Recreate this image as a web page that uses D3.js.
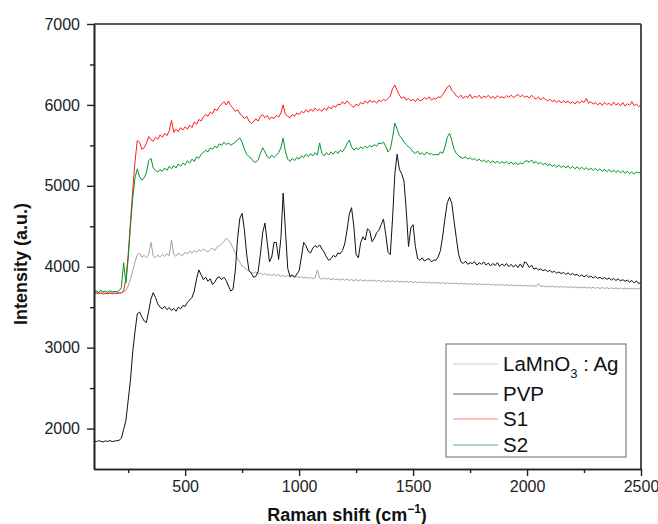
<!DOCTYPE html>
<html>
<head>
<meta charset="utf-8">
<script src="https://cdn.jsdelivr.net/npm/d3@7"></script>
<style>
  body { margin: 0; background: #fff; }
  text { font-family: "Liberation Sans", Arial, sans-serif; }
</style>
</head>
<body>
<div id="chart"></div>
<script>

// Raman shift grid, cm-1 (one reading every 10 cm-1)
const shift = d3.range(100, 2501, 10)

// intensities, one row per 100 cm-1
const lamno3 = [
  3680,3686,3675,3690,3681,3672,3687,3680,3676,3688,
  3680,3684,3678,3692,3705,3760,3850,3950,4060,4150,
  4165,4120,4142,4110,4152,4300,4130,4112,4143,4120,
  4152,4128,4160,4138,4330,4150,4128,4170,4148,4140,
  4180,4158,4192,4168,4200,4178,4212,4188,4220,4198,
  4182,4212,4230,4200,4242,4258,4282,4310,4352,4330,
  4290,4230,4170,4100,4050,4010,3990,3962,3950,3930,
  3920,3936,3910,3922,3900,3916,3895,3906,3890,3912,
  3885,3902,3880,3896,3875,3892,3870,3886,3870,3882,
  3865,3876,3860,3872,3855,3868,3852,3865,3960,3858,
  3845,3862,3848,3856,3840,3853,3838,3851,3835,3848,
  3832,3846,3830,3843,3828,3841,3826,3839,3825,3836,
  3822,3835,3821,3834,3818,3832,3817,3830,3815,3828,
  3813,3827,3811,3825,3809,3822,3808,3820,3806,3818,
  3804,3816,3802,3814,3800,3812,3799,3810,3797,3808,
  3795,3806,3793,3804,3791,3802,3790,3800,3788,3798,
  3786,3796,3784,3794,3782,3792,3781,3790,3779,3789,
  3777,3787,3775,3785,3773,3783,3772,3781,3770,3780,
  3768,3778,3766,3776,3764,3774,3763,3772,3761,3771,
  3759,3769,3757,3767,3755,3792,3754,3764,3752,3762,
  3750,3760,3748,3758,3746,3756,3745,3755,3743,3753,
  3741,3751,3740,3750,3738,3748,3737,3746,3735,3745,
  3733,3744,3732,3742,3731,3741,3729,3740,3728,3739,
  3727,3738,3726,3736,3725,3735,3724,3734,3723,3733,
  3732
]

const pvp = [
  1845,1838,1850,1842,1835,1848,1840,1852,1838,1845,
  1850,1855,1880,1990,2100,2350,2600,2950,3200,3420,
  3440,3380,3330,3310,3450,3600,3680,3620,3540,3500,
  3480,3510,3470,3495,3460,3485,3450,3500,3480,3520,
  3510,3560,3590,3620,3700,3850,3960,3900,3840,3870,
  3820,3850,3780,3810,3860,3875,3840,3870,3830,3760,
  3700,3720,3950,4350,4600,4660,4450,4150,3950,3920,
  3870,3880,3940,4150,4420,4540,4300,4060,4120,4300,
  4300,4090,4350,4910,4450,3980,3880,3900,3870,3910,
  3950,4120,4300,4260,4190,4170,4230,4260,4240,4270,
  4220,4180,4120,4080,4100,4140,4120,4170,4160,4200,
  4280,4450,4650,4730,4500,4150,4110,4300,4370,4330,
  4470,4440,4310,4350,4420,4450,4520,4590,4400,4180,
  4150,4600,5150,5390,5200,5150,5060,4700,4250,4480,
  4520,4250,4100,4080,4110,4070,4090,4100,4060,4080,
  4080,4120,4200,4380,4600,4790,4860,4780,4560,4350,
  4150,4060,4040,4070,4030,4050,4040,4060,4020,4050,
  4030,4060,4020,4045,4010,4040,4015,4050,4005,4035,
  4010,4040,4000,4030,3995,4025,3990,4035,3990,4060,
  4040,3990,4020,3970,3985,3960,3975,3950,3965,3940,
  3955,3930,3945,3920,3935,3915,3930,3905,3925,3900,
  3915,3895,3905,3880,3900,3875,3895,3870,3885,3860,
  3880,3855,3870,3850,3865,3845,3860,3835,3855,3830,
  3850,3825,3840,3820,3835,3810,3830,3800,3825,3790,
  3810
]

const s1 = [
  3665,3672,3668,3675,3662,3670,3666,3674,3664,3671,
  3668,3672,3676,3700,3850,4150,4550,4950,5300,5560,
  5540,5450,5470,5530,5610,5570,5550,5600,5575,5630,
  5600,5650,5620,5680,5810,5660,5700,5670,5720,5690,
  5730,5700,5750,5720,5790,5760,5820,5800,5850,5880,
  5860,5910,5890,5950,5930,5980,6010,6040,6000,6050,
  5990,5960,5920,5940,5890,5870,5830,5860,5800,5770,
  5790,5830,5800,5860,5880,5840,5870,5820,5850,5830,
  5870,5850,5900,6000,5880,5860,5840,5880,5860,5900,
  5880,5920,5900,5940,5910,5950,5920,5960,5930,5945,
  5920,5960,5935,5980,5950,5990,5970,6010,6000,6040,
  6010,6050,6020,5990,5970,6010,5990,6030,6010,6050,
  6020,6060,6030,6050,6020,6060,6040,6070,6050,6080,
  6110,6200,6246,6180,6120,6080,6100,6060,6080,6050,
  6070,6040,6080,6050,6060,6090,6070,6100,6060,6080,
  6070,6100,6090,6130,6170,6220,6240,6180,6150,6110,
  6090,6120,6080,6110,6090,6130,6080,6110,6090,6120,
  6080,6110,6090,6120,6085,6105,6080,6115,6090,6100,
  6085,6115,6095,6120,6090,6110,6130,6100,6120,6095,
  6110,6085,6120,6090,6070,6100,6060,6090,6070,6050,
  6070,6040,6060,6030,6055,6025,6050,6030,6045,6020,
  6040,6010,6045,6020,6050,6030,6080,6020,6040,6010,
  6030,6000,6025,5995,6030,6005,6020,5990,6035,6000,
  6020,5990,6030,5985,6015,5995,6040,5990,6010,5980,
  6000
]

const s2 = [
  3690,3700,3682,3710,3688,3698,3684,3705,3690,3696,
  3692,3705,3740,4050,3800,4100,4500,4850,5100,5210,
  5110,5070,5100,5160,5310,5340,5220,5190,5170,5200,
  5180,5220,5190,5240,5210,5250,5220,5270,5240,5280,
  5260,5310,5280,5330,5300,5360,5340,5390,5410,5440,
  5420,5470,5450,5490,5470,5520,5500,5540,5510,5530,
  5500,5520,5540,5570,5590,5540,5450,5390,5360,5340,
  5300,5290,5320,5400,5470,5420,5360,5340,5380,5350,
  5380,5410,5470,5590,5420,5330,5300,5340,5310,5350,
  5330,5370,5350,5390,5360,5400,5370,5410,5380,5530,
  5400,5370,5410,5380,5420,5390,5430,5400,5440,5420,
  5460,5520,5566,5480,5440,5470,5450,5480,5460,5490,
  5470,5500,5480,5510,5490,5530,5520,5540,5490,5420,
  5450,5600,5776,5700,5620,5590,5540,5510,5480,5460,
  5420,5400,5430,5390,5410,5380,5420,5390,5400,5380,
  5390,5380,5420,5400,5480,5600,5650,5560,5450,5400,
  5370,5350,5340,5360,5330,5350,5320,5340,5310,5330,
  5300,5320,5290,5315,5285,5310,5280,5305,5275,5300,
  5280,5300,5270,5295,5265,5290,5260,5285,5270,5300,
  5310,5290,5320,5280,5300,5270,5290,5260,5280,5250,
  5270,5240,5260,5230,5255,5225,5250,5220,5245,5215,
  5240,5210,5235,5205,5230,5200,5225,5195,5220,5190,
  5215,5185,5210,5180,5205,5175,5200,5170,5195,5165,
  5190,5160,5185,5155,5180,5150,5175,5145,5170,5160,
  5170
]

const seriesNames = ["LaMnO3 : Ag", "PVP", "S1", "S2"]
const seriesColors = ["#a3a3a3", "#111111", "#ff1a1a", "#00952a"]
const legendColors = ["#c9c9c9", "#666666", "#ff8080", "#66b27a"]
const xTicks = [500, 1000, 1500, 2000, 2500]
const xMinor = [250, 750, 1250, 1750, 2250]
const yTicks = [2000, 3000, 4000, 5000, 6000, 7000]
const yMinor = [2500, 3500, 4500, 5500, 6500]

// Layout
let outerWidth = 658
let outerHeight = 524
let margin = {top: 24, bottom: 55, left: 94, right: 17}
let width = outerWidth - margin.left - margin.right
let height = outerHeight - margin.top - margin.bottom

const svg = d3.select("#chart")
    .append("svg")
    .attr("width", outerWidth)
    .attr("height", outerHeight)

const g = svg.append("g")
    .attr("transform", `translate(${margin.left}, ${margin.top})`)

const x = d3.scaleLinear()
    .domain([100, 2500])
    .range([0, width])

const y = d3.scaleLinear()
    .domain([1500, 7000])
    .range([height, 0])

// Lines
const line = d3.line()
    .x(d => x(d[0]))
    .y(d => y(d[1]))

const allSeries = [lamno3, pvp, s1, s2]

allSeries.forEach((vals, i) => {
    g.append("path")
        .datum(shift.map((s, j) => [s, vals[j]]))
        .attr("fill", "none")
        .attr("stroke", seriesColors[i])
        .attr("stroke-width", 1)
        .attr("stroke-linejoin", "round")
        .attr("d", line)
})

// Frame (top and right)
g.append("line")
    .attr("x1", 0).attr("x2", width)
    .attr("y1", 0).attr("y2", 0)
    .attr("stroke", "#222").attr("stroke-width", 1.6)
g.append("line")
    .attr("x1", width).attr("x2", width)
    .attr("y1", 0).attr("y2", height)
    .attr("stroke", "#222").attr("stroke-width", 1.6)

// Axes
const fmt = d3.format("d")

g.append("g")
    .attr("transform", `translate(0, ${height})`)
    .call(d3.axisBottom(x).tickValues(xTicks).tickFormat(fmt).tickSize(7).tickPadding(5).tickSizeOuter(0))
g.append("g")
    .attr("transform", `translate(0, ${height})`)
    .call(d3.axisBottom(x).tickValues(xMinor).tickSize(4).tickFormat("").tickSizeOuter(0))

g.append("g")
    .call(d3.axisLeft(y).tickValues(yTicks).tickFormat(fmt).tickSize(7).tickPadding(7).tickSizeOuter(0))
g.append("g")
    .call(d3.axisLeft(y).tickValues(yMinor).tickSize(4).tickFormat("").tickSizeOuter(0))

g.selectAll(".domain").attr("stroke", "#222").attr("stroke-width", 1.6)
g.selectAll(".tick line").attr("stroke", "#222").attr("stroke-width", 1.4)
g.selectAll(".tick text")
    .attr("fill", "#222")
    .style("font-size", "16px")
    .style("font-family", "'Liberation Sans', Arial, sans-serif")

// Axis titles
const xTitle = svg.append("text")
    .attr("x", 347)
    .attr("y", 521)
    .attr("text-anchor", "middle")
    .style("font-size", "18px")
    .style("font-weight", "bold")
    .attr("fill", "#111")
xTitle.append("tspan").text("Raman shift (cm")
xTitle.append("tspan").attr("dy", -8).style("font-size", "12px").text("\u22121")
xTitle.append("tspan").attr("dy", 8).text(")")

svg.append("text")
    .attr("transform", "translate(27, 264) rotate(-90)")
    .attr("text-anchor", "middle")
    .style("font-size", "18px")
    .style("font-weight", "bold")
    .attr("fill", "#111")
    .text("Intensity (a.u.)")

// Legend
const legend = svg.append("g")
    .attr("transform", "translate(446, 344)")

legend.append("rect")
    .attr("width", 180)
    .attr("height", 113)
    .attr("fill", "#fff")
    .attr("stroke", "#666")
    .attr("stroke-width", 1)

const rowY = [20, 50, 75, 101]

seriesNames.forEach((name, i) => {
    legend.append("line")
        .attr("x1", 7).attr("x2", 52)
        .attr("y1", rowY[i]).attr("y2", rowY[i])
        .attr("stroke", legendColors[i])
        .attr("stroke-width", 1.2)

    const t = legend.append("text")
        .attr("x", 57)
        .attr("y", rowY[i] + 7)
        .style("font-size", "20.5px")
        .attr("fill", "#111")
    if (name.startsWith("LaMnO3")) {
        t.append("tspan").text("LaMnO")
        t.append("tspan").attr("dy", 7).style("font-size", "13px").text("3")
        t.append("tspan").attr("dy", -7).text(" : Ag")
    } else {
        t.text(name)
    }
})

</script>
</body>
</html>
